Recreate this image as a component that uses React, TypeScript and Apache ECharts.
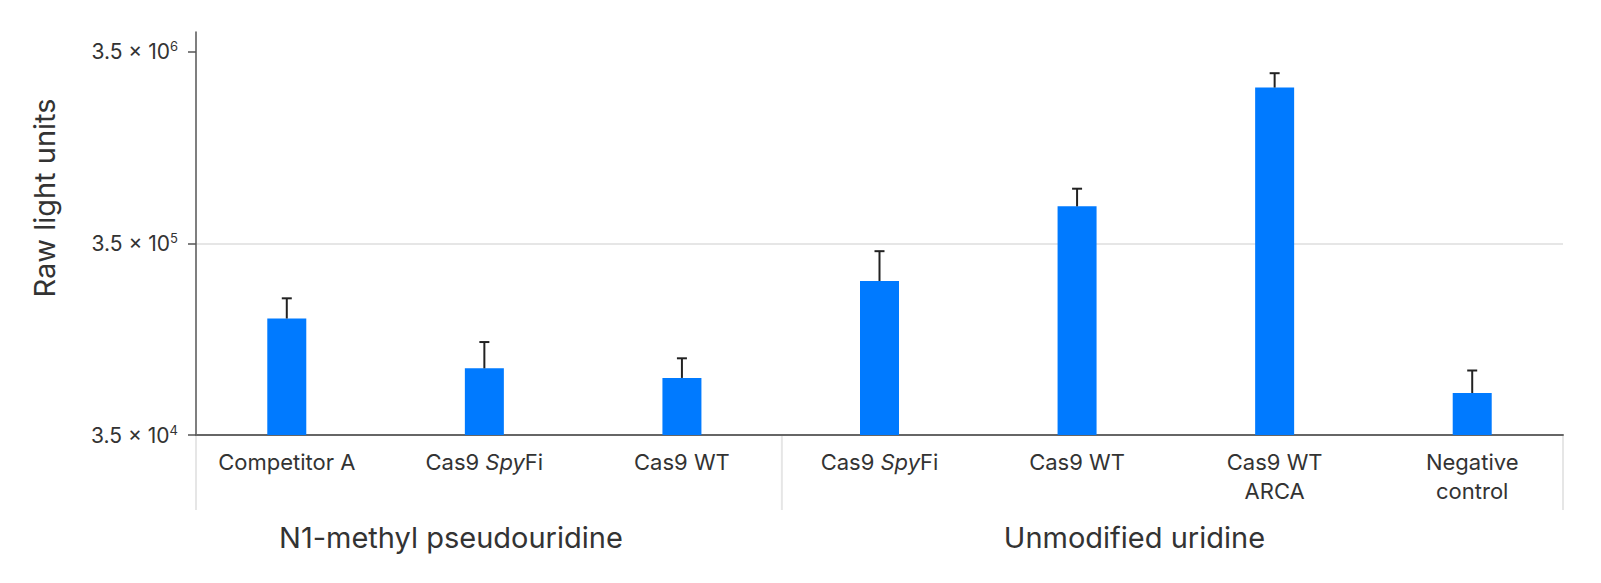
import React, { useEffect, useRef } from "react";
import * as echarts from "echarts";

// ---- data ----
const categories = [
  "Competitor A",
  "Cas9 {i|Spy}Fi",
  "Cas9 WT",
  "Cas9 {i|Spy}Fi",
  "Cas9 WT",
  "Cas9 WT\nARCA",
  "Negative\ncontrol",
];
const meanValues = [142000, 78000, 69500, 223000, 547000, 2280000, 58000];
const upperValues = [181000, 107000, 88000, 319000, 676000, 2710000, 76000];
const groupNames = ["N1-methyl pseudouridine", "Unmodified uridine"];
const groupSizes = [3, 4];
const tickExponents = [4, 5, 6];
const baseValue = 35000; // 3.5 × 10^4
const axisTopDecades = 2.104;

const FONT = "Inter, 'Noto Sans', sans-serif";
const TEXT = "#333333";

const toLog = (v: number) => Math.log10(v / baseValue);

export default function App() {
  const ref = useRef<HTMLDivElement>(null);
  useEffect(() => {
    if (!ref.current) return;
    const chart = echarts.init(ref.current, undefined, { renderer: "svg" });
    const tickVals = tickExponents.map((e) => e - tickExponents[0]);
    chart.setOption({
      animation: false,
      textStyle: { fontFamily: FONT },
      grid: [
        { left: 188, right: 30, top: 32, bottom: 148 },
        { left: 196, right: 38, top: 32, bottom: 148 },
      ],
      xAxis: [
        {
          type: "category",
          gridIndex: 0,
          data: categories,
          axisLine: { show: false },
          axisTick: { show: false },
          axisLabel: {
            interval: 0,
            color: TEXT,
            fontSize: 22,
            lineHeight: 29,
            margin: 12,
            fontFamily: FONT,
            rich: {
              i: { fontStyle: "italic", fontSize: 22, color: TEXT, fontFamily: FONT, lineHeight: 29 },
            },
          },
        },
        {
          type: "category",
          gridIndex: 1,
          data: categories,
          axisLine: { lineStyle: { color: "#666666", width: 2 } },
          axisTick: { show: false },
          axisLabel: { show: false },
        },
      ],
      yAxis: [
        {
          type: "value",
          gridIndex: 0,
          min: 0,
          max: axisTopDecades,
          interval: 1,
          show: false,
          splitLine: { show: false },
        },
        {
          type: "value",
          gridIndex: 1,
          min: 0,
          max: axisTopDecades,
          interval: 1,
          axisLine: { show: true, lineStyle: { color: "#555555", width: 1.5 } },
          axisTick: {
            show: true,
            length: 8,
            customValues: tickVals,
            lineStyle: { color: "#555555", width: 1.5 },
          },
          axisLabel: {
            customValues: tickVals,
            color: TEXT,
            fontSize: 21,
            fontFamily: FONT,
            margin: 18,
            lineHeight: 24,
            formatter: (v: number) => `3.5 × 10{sup|${tickExponents[0] + Math.round(v)}}`,
            rich: {
              sup: { fontSize: 13, verticalAlign: "top", lineHeight: 13, color: TEXT, fontFamily: FONT },
            },
          },
          splitLine: {
            show: true,
            showMinLine: false,
            showMaxLine: false,
            lineStyle: { color: "#e6e6e6", width: 2 },
          },
        },
      ],
      series: [
        {
          type: "bar",
          xAxisIndex: 0,
          yAxisIndex: 0,
          data: meanValues.map(toLog),
          barWidth: 39,
          itemStyle: { color: "#007AFF" },
          z: 2,
        },
        {
          type: "custom",
          xAxisIndex: 0,
          yAxisIndex: 0,
          z: 3,
          data: meanValues.map((m, i) => [i, toLog(m), toLog(upperValues[i])]),
          encode: { x: 0, y: [1, 2] },
          renderItem: (params: any, api: any) => {
            const p1 = api.coord([api.value(0), api.value(1)]);
            const p2 = api.coord([api.value(0), api.value(2)]);
            const style = { stroke: "#222222", lineWidth: 2 };
            return {
              type: "group",
              children: [
                { type: "line", shape: { x1: p1[0], y1: p1[1], x2: p2[0], y2: p2[1] }, style },
                { type: "line", shape: { x1: p2[0] - 5, y1: p2[1], x2: p2[0] + 5, y2: p2[1] }, style },
              ],
            };
          },
        },
      ],
    });

    // group separators and labels (from the axis-line grid)
    const p0 = chart.convertToPixel({ xAxisIndex: 1 }, 0) as number;
    const p1 = chart.convertToPixel({ xAxisIndex: 1 }, 1) as number;
    const band = p1 - p0;
    const axisY = chart.convertToPixel({ yAxisIndex: 1 }, 0) as number;
    const graphics: any[] = [];
    let start = 0;
    const boundaries: number[] = [p0 - band / 2];
    groupSizes.forEach((size, gi) => {
      const left = p0 + (start - 0.5) * band;
      const right = p0 + (start + size - 0.5) * band;
      boundaries.push(right);
      graphics.push({
        type: "text",
        x: (left + right) / 2 - 38,
        y: axisY + 102,
        style: {
          text: groupNames[gi],
          fontSize: 29,
          fontFamily: FONT,
          fill: TEXT,
          align: "center",
          verticalAlign: "middle",
        },
      });
      start += size;
    });
    boundaries.forEach((bx) => {
      graphics.push({
        type: "line",
        shape: { x1: bx, y1: axisY + 1, x2: bx, y2: axisY + 75 },
        style: { stroke: "#e6e6e6", lineWidth: 2 },
        z: -1,
      });
    });
    graphics.push({
      type: "text",
      x: 44,
      y: 198,
      rotation: Math.PI / 2,
      style: {
        text: "Raw light units",
        fontSize: 29,
        fontFamily: FONT,
        fill: TEXT,
        align: "center",
        verticalAlign: "middle",
      },
    });
    chart.setOption({ graphic: graphics });

    return () => chart.dispose();
  }, []);
  return (
    <div
      ref={ref}
      style={{ position: "fixed", left: 0, top: 0, width: 1601, height: 583, background: "#fff" }}
    />
  );
}
